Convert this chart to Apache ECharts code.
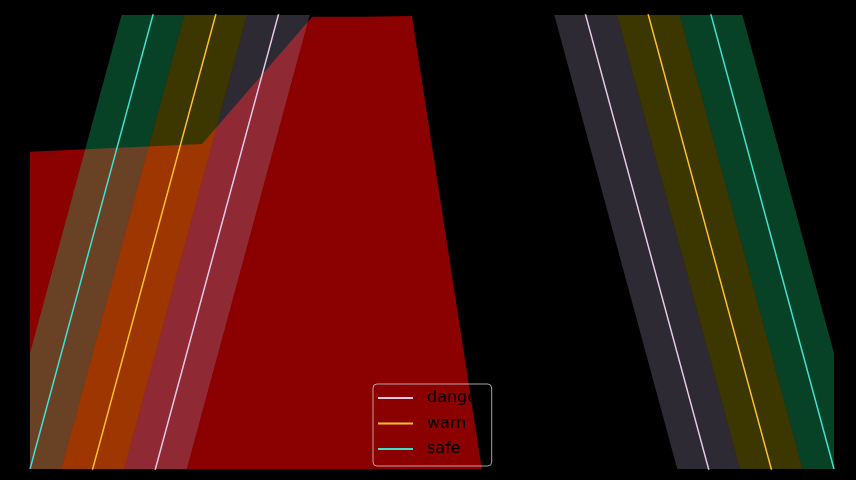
<!DOCTYPE html>
<html>
<head>
<meta charset="utf-8">
<script src="https://cdn.jsdelivr.net/npm/echarts@6.0.0/dist/echarts.min.js"></script>
<style>
  html, body { margin: 0; padding: 0; background: #000; }
  #chart { width: 856px; height: 480px; }
</style>
</head>
<body>
<div id="chart"></div>
<script>
// ---- data (x in 0..100, y visible range 0..100) ----
const lineX = [0, 50, 100];
const dangerY = [-102, 225, -102];
const warnY = [-51, 276, -51];
const safeY = [0, 327, 0];
const bandHalf = 25.5;

const redX = [0, 21.4, 35.1, 41.3, 47.5, 56.2];
const redY = [69.9, 71.6, 99.6, 99.6, 99.8, 0];

const seriesNames = ['danger', 'warn', 'safe'];
const lineColors = ['#e6c8e6', '#ffc125', '#40e0d0'];
const bandColors = ['rgba(153,140,173,0.3)', 'rgba(200,180,0,0.3)', 'rgba(27,220,127,0.3)'];
const seriesY = [dangerY, warnY, safeY];

function pairs(xs, ys) { return xs.map((x, i) => [x, ys[i]]); }

const series = [];
series.push({
  name: 'region', type: 'line', z: 1,
  data: pairs(redX, redY),
  symbol: 'none', lineStyle: { width: 0 },
  areaStyle: { color: '#8b0000', opacity: 1, origin: 'start' },
  silent: true
});

// fill-between bands: polygon of (x, y+d) then reversed (x, y-d), via the axes' scales
series.push({
  name: 'bands', type: 'custom', z: 2, silent: true,
  data: seriesY.map((ys, k) => [k]),
  renderItem: function (params, api) {
    const k = api.value(0);
    const ys = seriesY[k];
    const pts = [];
    for (let i = 0; i < lineX.length; i++) pts.push(api.coord([lineX[i], ys[i] + bandHalf]));
    for (let i = lineX.length - 1; i >= 0; i--) pts.push(api.coord([lineX[i], ys[i] - bandHalf]));
    const cs = params.coordSys;
    return {
      type: 'polygon',
      shape: { points: pts },
      style: { fill: bandColors[k] },
      clipPath: { type: 'rect', shape: { x: cs.x, y: cs.y, width: cs.width, height: cs.height } }
    };
  },
  encode: { x: -1, y: -1 }
});

seriesY.forEach((ys, k) => {
  series.push({
    name: seriesNames[k], type: 'line', z: 3,
    data: pairs(lineX, ys),
    symbol: 'none', color: lineColors[k],
    lineStyle: { width: 1.5, color: lineColors[k] },
    itemStyle: { color: lineColors[k] }
  });
});

const chart = echarts.init(document.getElementById('chart'), null, { renderer: 'canvas' });
chart.setOption({
  animation: false,
  backgroundColor: '#000',
  grid: { left: 30, right: 22, top: 15, bottom: 11, containLabel: false },
  xAxis: { type: 'value', min: 0, max: 100, show: false },
  yAxis: { type: 'value', min: 0, max: 100, show: false },
  legend: {
    data: seriesNames,
    orient: 'vertical',
    left: 373, top: 384,
    padding: [6, 8, 9, 5],
    itemWidth: 35, itemHeight: 2, itemGap: 9.5,
    icon: 'rect',
    borderColor: 'rgba(204,204,204,0.8)', borderWidth: 1, borderRadius: 4,
    backgroundColor: 'transparent',
    textStyle: { color: '#000', fontFamily: 'DejaVu Sans', fontSize: 16, lineHeight: 16, padding: [0, 0, 0, 9] }
  },
  series: series
});
</script>
</body>
</html>
